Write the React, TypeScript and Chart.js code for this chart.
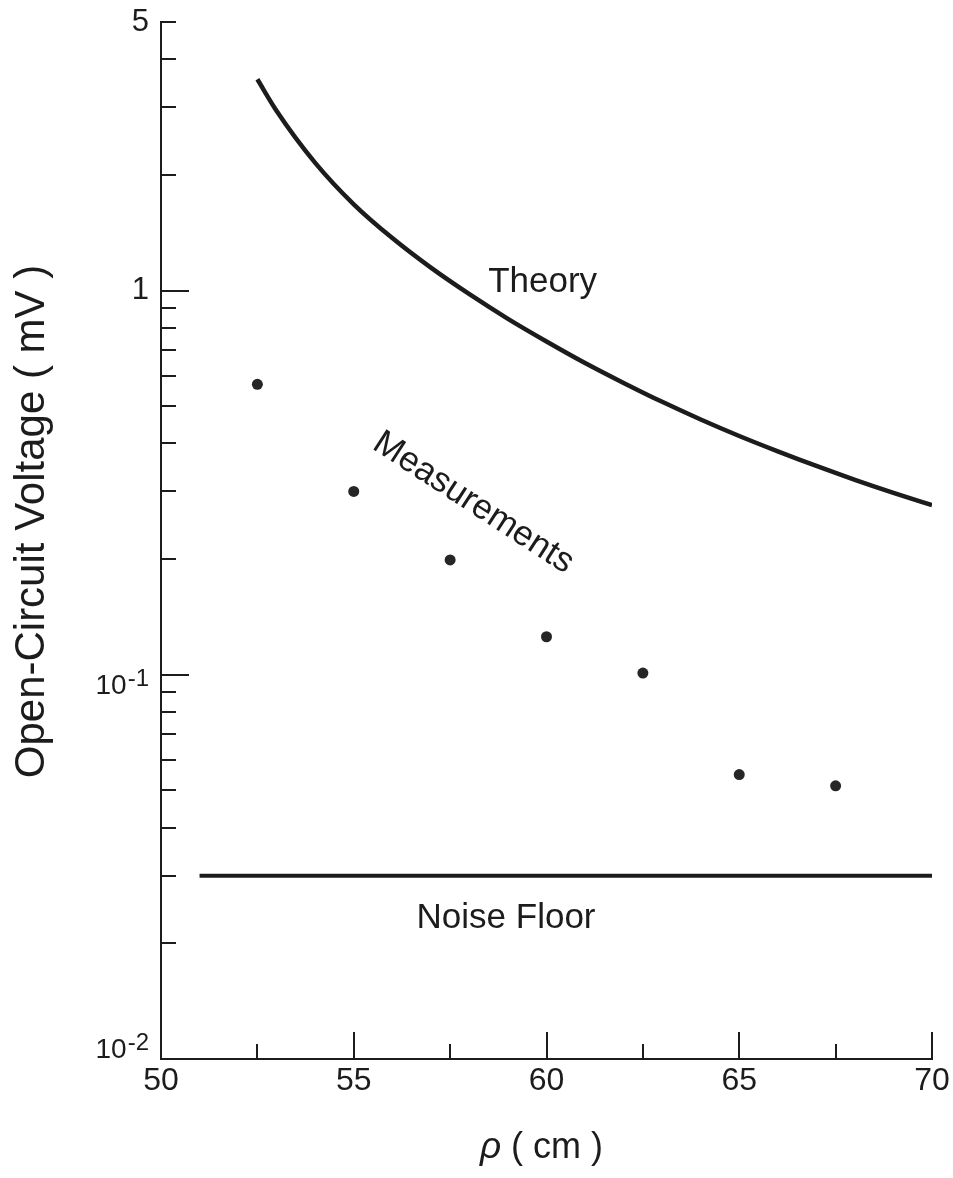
import React, { useEffect, useRef } from "react";
import { Chart, registerables } from "chart.js";

Chart.register(...registerables);

// ---------- data ----------
const theoryRho = [52.5, 53, 54, 55, 56, 57, 58, 59, 60, 61, 62, 63, 64, 65, 66, 67, 68, 69, 70];
const theoryVoltage = [3.548, 2.934, 2.15, 1.677, 1.3695, 1.147, 0.9784, 0.8443, 0.7372, 0.6479, 0.575, 0.5133, 0.4618, 0.4183, 0.3815, 0.3495, 0.3217, 0.2975, 0.2763];

const measuredRho = [52.5, 55, 57.5, 60, 62.5, 65, 67.5];
const measuredVoltage = [0.57, 0.3, 0.199, 0.1256, 0.101, 0.055, 0.0514];

const noiseRho = [51, 70];
const noiseVoltage = [0.03, 0.03];

const xTickLabels = [50, 55, 60, 65, 70];
const xMajorTicks = [55, 60, 65, 70];
const xMinorTicks = [52.5, 57.5, 62.5, 67.5];

const yLabelValues = [5, 1, 0.1, 0.01];
const yLabelBase = ["5", "1", "10", "10"];
const yLabelExp = ["", "", "-1", "-2"];
const yMajorTicks = [0.1, 1];
const yMinorTicks = [0.02, 0.03, 0.04, 0.05, 0.06, 0.07, 0.08, 0.09, 0.2, 0.3, 0.4, 0.5, 0.6, 0.7, 0.8, 0.9, 2, 3, 4, 5];

const annotationTexts = ["Theory", "Measurements", "Noise Floor"];
const yTitle = "Open-Circuit Voltage ( mV )";
const xTitleSymbol = "ρ";
const xTitleUnit = " ( cm )";

// ---------- styling / placement ----------
const FONT = '"Liberation Sans", Arial, Helvetica, sans-serif';
const INK = "#1c1c1c";
const annotationPlacement = [
  { x: 59.9, y: 0.99, rotation: 0, baseline: "alphabetic" as CanvasTextBaseline },
  { x: 58.1, y: 0.28, rotation: 33, baseline: "middle" as CanvasTextBaseline },
  { x: 58.95, y: 0.0219, rotation: 0, baseline: "alphabetic" as CanvasTextBaseline },
];

const decorPlugin = {
  id: "decor",
  afterDraw(chart: any) {
    const ctx: CanvasRenderingContext2D = chart.ctx;
    const area = chart.chartArea;
    const xs = chart.scales.x;
    const ys = chart.scales.y;
    ctx.save();
    ctx.strokeStyle = INK;
    ctx.lineWidth = 2;
    ctx.lineCap = "butt";
    const line = (x1: number, y1: number, x2: number, y2: number) => {
      ctx.beginPath();
      ctx.moveTo(x1, y1);
      ctx.lineTo(x2, y2);
      ctx.stroke();
    };
    // inward ticks
    xMajorTicks.forEach((v) => {
      const px = Math.round(xs.getPixelForValue(v));
      line(px, area.bottom, px, area.bottom - 27);
    });
    xMinorTicks.forEach((v) => {
      const px = Math.round(xs.getPixelForValue(v));
      line(px, area.bottom, px, area.bottom - 15);
    });
    yMajorTicks.forEach((v) => {
      const py = Math.round(ys.getPixelForValue(v));
      line(area.left, py, area.left + 28, py);
    });
    yMinorTicks.forEach((v) => {
      const py = Math.round(ys.getPixelForValue(v));
      line(area.left, py, area.left + 15, py);
    });

    // y tick labels with superscripts
    ctx.fillStyle = INK;
    const right = area.left - 12;
    yLabelValues.forEach((v, i) => {
      const py = ys.getPixelForValue(v);
      const base = yLabelBase[i];
      const exp = yLabelExp[i];
      if (!exp) {
        ctx.font = `31px ${FONT}`;
        ctx.textAlign = "right";
        ctx.textBaseline = "middle";
        ctx.fillText(base, right, py);
      } else {
        ctx.font = `24px ${FONT}`;
        const we = ctx.measureText(exp).width;
        ctx.font = `28px ${FONT}`;
        const wb = ctx.measureText(base).width;
        let baseline = py + 19;
        if (baseline > area.bottom - 1) baseline = area.bottom - 1;
        const x0 = right - we - wb - 1;
        ctx.textAlign = "left";
        ctx.textBaseline = "alphabetic";
        ctx.fillText(base, x0, baseline);
        ctx.font = `24px ${FONT}`;
        ctx.fillText(exp, x0 + wb + 1, baseline - 8);
      }
    });

    // axis titles
    ctx.save();
    ctx.font = `42px ${FONT}`;
    ctx.translate(44, (area.top + area.bottom) / 2 - 19);
    ctx.rotate(-Math.PI / 2);
    ctx.textAlign = "center";
    ctx.textBaseline = "alphabetic";
    ctx.fillText(yTitle, 0, 0);
    ctx.restore();

    ctx.save();
    ctx.textBaseline = "alphabetic";
    ctx.textAlign = "left";
    ctx.font = `italic 37px ${FONT}`;
    const ws = ctx.measureText(xTitleSymbol).width;
    ctx.font = `36px ${FONT}`;
    const wu = ctx.measureText(xTitleUnit).width;
    const cx = (area.left + area.right) / 2 - 5;
    const bx = cx - (ws + wu) / 2;
    const by = area.bottom + 99;
    ctx.font = `italic 37px ${FONT}`;
    ctx.fillText(xTitleSymbol, bx, by);
    ctx.font = `36px ${FONT}`;
    ctx.fillText(xTitleUnit, bx + ws, by);
    ctx.restore();

    // annotations
    ctx.font = `35px ${FONT}`;
    annotationTexts.forEach((t, i) => {
      const p = annotationPlacement[i];
      const px = xs.getPixelForValue(p.x);
      const py = ys.getPixelForValue(p.y);
      ctx.save();
      ctx.translate(px, py);
      ctx.rotate((p.rotation * Math.PI) / 180);
      ctx.textAlign = "center";
      ctx.textBaseline = p.baseline;
      ctx.fillText(t, 0, 0);
      ctx.restore();
    });
    ctx.restore();
  },
};

export default function App() {
  const ref = useRef<HTMLCanvasElement>(null);
  useEffect(() => {
    if (!ref.current) return;
    Chart.defaults.font.family = FONT;
    const chart = new Chart(ref.current, {
      type: "scatter",
      data: {
        datasets: [
          {
            label: "Theory",
            data: theoryRho.map((x, i) => ({ x, y: theoryVoltage[i] })),
            showLine: true,
            borderColor: INK,
            borderWidth: 4.5,
            pointRadius: 0,
            cubicInterpolationMode: "monotone",
          },
          {
            label: "Measurements",
            data: measuredRho.map((x, i) => ({ x, y: measuredVoltage[i] })),
            showLine: false,
            backgroundColor: "#262626",
            borderWidth: 0,
            pointRadius: 5.5,
          },
          {
            label: "Noise Floor",
            data: noiseRho.map((x, i) => ({ x, y: noiseVoltage[i] })),
            showLine: true,
            borderColor: INK,
            borderWidth: 4,
            pointRadius: 0,
          },
        ],
      },
      options: {
        responsive: false,
        animation: false,
        layout: { padding: { top: 22, right: 21, left: 0, bottom: 0 } },
        plugins: { legend: { display: false }, tooltip: { enabled: false } },
        scales: {
          x: {
            type: "linear",
            position: "bottom",
            min: 50,
            max: 70,
            afterBuildTicks: (s: any) => {
              s.ticks = xTickLabels.map((v) => ({ value: v }));
            },
            afterFit: (s: any) => {
              s.height = 119;
            },
            grid: { display: false, drawTicks: false },
            border: { display: true, color: INK, width: 2 },
            ticks: {
              font: { family: FONT, size: 32 },
              color: INK,
              padding: 3,
              maxRotation: 0,
              autoSkip: false,
            },
            title: { display: false },
          },
          y: {
            type: "logarithmic",
            position: "left",
            min: 0.01,
            max: 5,
            afterFit: (s: any) => {
              s.width = 161;
            },
            grid: { display: false, drawTicks: false },
            border: { display: true, color: INK, width: 2 },
            ticks: { display: false },
            title: { display: false },
          },
        },
      },
      plugins: [decorPlugin],
    } as any);
    return () => chart.destroy();
  }, []);
  return (
    <div style={{ position: "absolute", left: 0, top: 0, width: 953, height: 1178, background: "#fff" }}>
      <canvas ref={ref} width={953} height={1178} style={{ display: "block", width: 953, height: 1178 }} />
    </div>
  );
}
